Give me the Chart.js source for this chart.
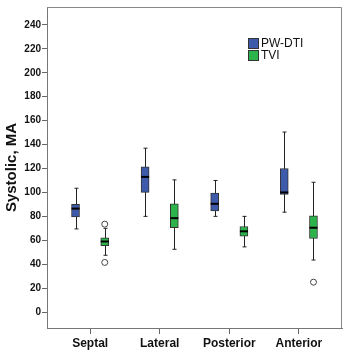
<!DOCTYPE html>
<html>
<head>
<meta charset="utf-8">
<script src="https://cdn.jsdelivr.net/npm/chart.js@4.4.0/dist/chart.umd.min.js"></script>
<style>
  html, body { margin: 0; padding: 0; background: #fff; }
  #chart { display: block; }
</style>
</head>
<body>
<canvas id="chart" width="348" height="354"></canvas>
<script>
// Box plot data
const categories = ['Septal', 'Lateral', 'Posterior', 'Anterior'];
const seriesNames = ['PW-DTI', 'TVI'];
const seriesColors = ['#3D5BAA', '#2DB34B'];

const pwMin    = [69.5, 80, 80, 83.5];
const pwQ1     = [79.5, 100, 84.5, 98.3];
const pwMedian = [86.5, 113, 90.5, 100];
const pwQ3     = [90, 121.5, 99.5, 120];
const pwMax    = [103.5, 137, 110, 150.5];

const tviMin    = [47.5, 52.5, 54.5, 43.5];
const tviQ1     = [55.5, 70.5, 63.5, 61.5];
const tviMedian = [59, 78.5, 67.5, 70.5];
const tviQ3     = [62, 90.5, 71.5, 80.5];
const tviMax    = [70, 110.5, 80, 108.5];

// outliers: [category index, value]
const tviOutliers = [[0, 73.5], [0, 41.5], [3, 25]];

const yTicks = [0, 20, 40, 60, 80, 100, 120, 140, 160, 180, 200, 220, 240];

const groupOffset = 0.21;   // distance of each box from the category centre

const series = [
  { min: pwMin, q1: pwQ1, med: pwMedian, q3: pwQ3, max: pwMax, dx: -groupOffset },
  { min: tviMin, q1: tviQ1, med: tviMedian, q3: tviQ3, max: tviMax, dx: groupOffset }
];

function boxData(s) {
  return categories.map((c, i) => ({ x: i + 1 + s.dx, y: [s.q1[i], s.q3[i]] }));
}

// whiskers behind boxes, medians on top
const boxPlotPlugin = {
  id: 'boxPlot',
  beforeDatasetsDraw(chart) {
    const { ctx, scales: { x, y } } = chart;
    ctx.save();
    ctx.strokeStyle = '#222';
    ctx.lineWidth = 1;
    series.forEach(s => {
      categories.forEach((c, i) => {
        const px = Math.round(x.getPixelForValue(i + 1 + s.dx)) + 0.5;
        const top = y.getPixelForValue(s.max[i]);
        const bot = y.getPixelForValue(s.min[i]);
        ctx.beginPath();
        ctx.moveTo(px, top);
        ctx.lineTo(px, bot);
        ctx.moveTo(px - 2, top);
        ctx.lineTo(px + 2, top);
        ctx.moveTo(px - 2, bot);
        ctx.lineTo(px + 2, bot);
        ctx.stroke();
      });
    });
    ctx.restore();
  },
  afterDatasetsDraw(chart) {
    const { ctx, scales: { x, y } } = chart;
    ctx.save();
    ctx.strokeStyle = '#000';
    ctx.lineWidth = 2;
    series.forEach(s => {
      categories.forEach((c, i) => {
        const px = x.getPixelForValue(i + 1 + s.dx);
        const py = y.getPixelForValue(s.med[i]);
        ctx.beginPath();
        ctx.moveTo(px - 4, py);
        ctx.lineTo(px + 4, py);
        ctx.stroke();
      });
    });
    ctx.restore();
  },
  afterDraw(chart) {
    const { ctx, chartArea: a } = chart;
    ctx.save();
    // frame top and right
    ctx.strokeStyle = '#888';
    ctx.lineWidth = 1;
    ctx.beginPath();
    ctx.moveTo(a.left, a.top + 0.5);
    ctx.lineTo(a.right - 0.5, a.top + 0.5);
    ctx.lineTo(a.right - 0.5, a.bottom);
    ctx.stroke();
    // legend
    ctx.font = '12px "Liberation Sans", Arial, sans-serif';
    ctx.textBaseline = 'middle';
    seriesNames.forEach((name, k) => {
      const lx = 248, ly = 38 + k * 12;
      ctx.fillStyle = seriesColors[k];
      ctx.fillRect(lx, ly, 11, 11);
      ctx.strokeStyle = '#333';
      ctx.strokeRect(lx + 0.5, ly + 0.5, 10, 10);
      ctx.fillStyle = '#111';
      ctx.fillText(name, lx + 13, ly + 6);
    });
    ctx.restore();
  }
};

const ctx = document.getElementById('chart');
new Chart(ctx, {
  type: 'bar',
  data: {
    datasets: [
      {
        label: seriesNames[0],
        data: boxData(series[0]),
        backgroundColor: seriesColors[0],
        borderColor: '#333',
        borderWidth: 1,
        borderSkipped: false,
        barThickness: 8,
        grouped: false
      },
      {
        label: seriesNames[1],
        data: boxData(series[1]),
        backgroundColor: seriesColors[1],
        borderColor: '#333',
        borderWidth: 1,
        borderSkipped: false,
        barThickness: 8,
        grouped: false
      },
      {
        type: 'scatter',
        label: 'outliers',
        data: tviOutliers.map(o => ({ x: o[0] + 1 + groupOffset, y: o[1] })),
        pointStyle: 'circle',
        pointRadius: 3,
        pointBackgroundColor: '#fff',
        pointBorderColor: '#444',
        pointBorderWidth: 1
      }
    ]
  },
  options: {
    responsive: false,
    animation: false,
    layout: { padding: { top: 6, right: 6, left: 0, bottom: 0 } },
    plugins: {
      legend: { display: false },
      tooltip: { enabled: false }
    },
    scales: {
      x: {
        type: 'linear',
        min: 0.38,
        max: 4.62,
        offset: false,
        afterBuildTicks(scale) {
          scale.ticks = categories.map((c, i) => ({ value: i + 1 }));
        },
        afterFit(scale) { scale.height = 26; },
        grid: { offset: false, drawOnChartArea: false, drawTicks: true, tickLength: 6, color: '#666' },
        border: { color: '#777' },
        ticks: {
          padding: 2,
          color: '#111',
          autoSkip: false,
          maxRotation: 0,
          font: { family: '"Liberation Sans", Arial, sans-serif', size: 12, weight: 'bold' },
          callback: v => categories[v - 1]
        }
      },
      y: {
        min: -13.3,
        max: 255,
        afterBuildTicks(scale) {
          scale.ticks = yTicks.map(v => ({ value: v }));
        },
        afterFit(scale) { scale.width = 47; },
        grid: { drawOnChartArea: false, drawTicks: true, tickLength: 5, color: '#666' },
        border: { color: '#777' },
        ticks: {
          padding: 1,
          color: '#111',
          font: { family: '"Liberation Sans", Arial, sans-serif', size: 10, weight: 'bold' }
        },
        title: {
          display: true,
          text: 'Systolic, MA',
          color: '#111',
          padding: { top: 3, bottom: 0 },
          font: { family: '"Liberation Sans", Arial, sans-serif', size: 15, weight: 'bold' }
        }
      }
    }
  },
  plugins: [boxPlotPlugin]
});
</script>
</body>
</html>
